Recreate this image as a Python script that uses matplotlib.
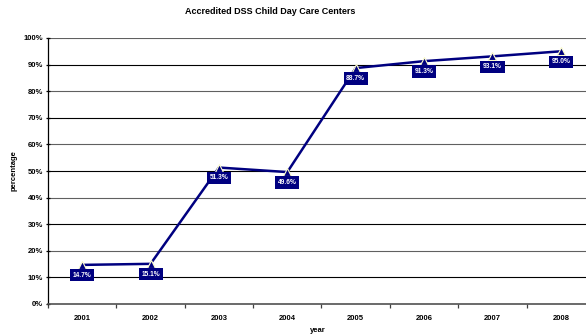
import matplotlib
matplotlib.use("Agg")
import matplotlib.pyplot as plt
from matplotlib.ticker import FixedLocator

plt.rcParams['font.family'] = ['Liberation Sans', 'DejaVu Sans']

years = ["2001", "2002", "2003", "2004", "2005", "2006", "2007", "2008"]
values = [14.7, 15.1, 51.3, 49.6, 88.7, 91.3, 93.1, 95.0]
labels = ["14.7%", "15.1%", "51.3%", "49.6%", "88.7%", "91.3%", "93.1%", "95.0%"]
yticks = list(range(0, 101, 10))

fig = plt.figure(figsize=(5.86, 3.34), dpi=100)
ax = fig.add_axes([48/586, 30/334, 547/586, 266/334])

x = list(range(len(years)))
ax.set_xlim(-0.5, len(years) - 0.5)
ax.set_ylim(0, 100)

for t in yticks[1:]:
    col = "#000000" if (t // 10) % 2 == 1 else "#606060"
    ax.axhline(t, color=col, lw=0.8, zorder=1)

ax.plot(x, values, color="#000080", lw=1.8, zorder=3)
ax.plot(x, values, ls="none", marker="^", ms=5.5, mfc="#000080",
        mec="#FFFFCC", mew=0.8, zorder=4)

for xi, v, lab in zip(x, values, labels):
    ax.annotate(lab, (xi, v), xytext=(0, -7.5), textcoords="offset points",
                ha="center", va="center", fontsize=4.8, fontweight="bold",
                color="white", zorder=5,
                bbox=dict(boxstyle="square,pad=0.4", fc="#000080", ec="none"))

ax.set_yticks(yticks)
ax.set_yticklabels([f"{t}%" for t in yticks], fontsize=5.5, fontweight="bold")
ax.set_xticks(x)
ax.set_xticklabels(years, fontsize=5.5, fontweight="bold")
ax.tick_params(axis="x", length=0, pad=8)
ax.xaxis.set_minor_locator(FixedLocator([i + 0.5 for i in range(-1, len(years))]))
ax.tick_params(axis="x", which="minor", length=3, width=0.9, color="#404040", direction="out")
ax.tick_params(axis="y", length=3, width=0.9, direction="inout", pad=2)

for s in ["top", "right"]:
    ax.spines[s].set_visible(False)
ax.spines["left"].set_color("black")
ax.spines["left"].set_linewidth(0.9)
ax.spines["bottom"].set_color("#505050")
ax.spines["bottom"].set_linewidth(1.2)

ax.set_xlabel("year", fontsize=5.5, fontweight="bold")
ax.xaxis.set_label_coords((318 - 48) / 547, -0.085)
ax.set_ylabel("percentage", fontsize=5.5, fontweight="bold")
ax.yaxis.set_label_coords(-(48 - 18) / 547, 0.5)

fig.text(270/586, 1 - 12/334, "Accredited DSS Child Day Care Centers",
         ha="center", va="center", fontsize=6.5, fontweight="bold")

fig.savefig("out.png", dpi=100)
